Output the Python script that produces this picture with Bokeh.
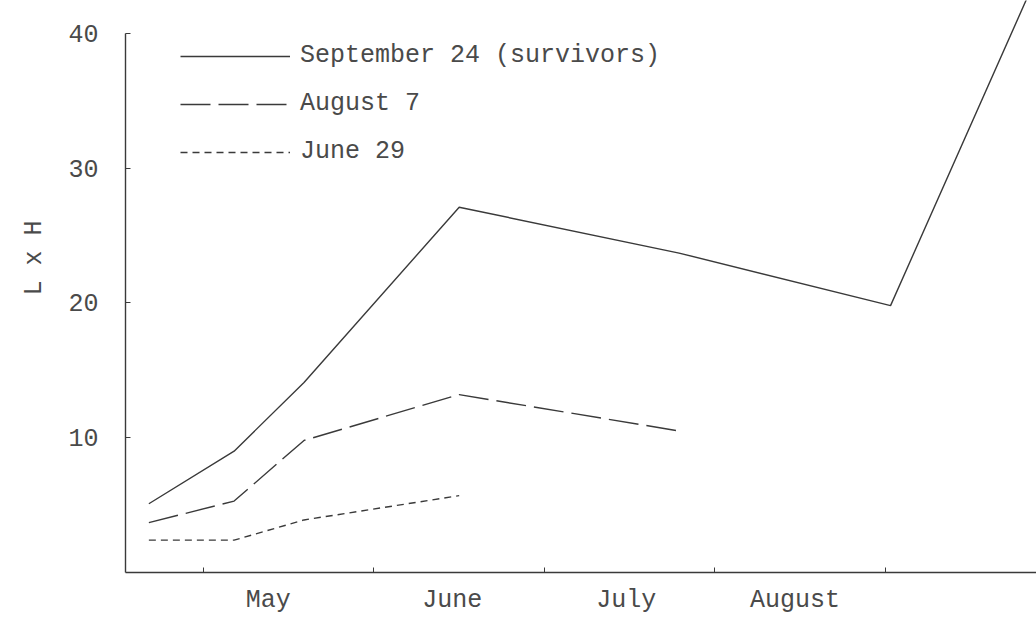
from bokeh.plotting import figure
from bokeh.models import Range1d, FixedTicker, Legend, LegendItem, Title
from bokeh.embed import file_html
from bokeh.resources import INLINE

# ---- data (x in months after May 1; y = L x H) ----
sep_x = [-0.32, 0.18, 0.59, 1.50, 2.79, 4.03, 4.90]
sep_y = [5.1, 9.0, 14.1, 27.1, 23.7, 19.8, 44.6]
aug_x = [-0.32, 0.18, 0.59, 1.50, 2.79]
aug_y = [3.7, 5.3, 9.8, 13.2, 10.5]
jun_x = [-0.32, 0.18, 0.59, 1.50]
jun_y = [2.4, 2.4, 3.9, 5.7]

months = ["May", "June", "July", "August"]
month_starts = [0, 1, 2, 3, 4]
month_label_pos = [0.38, 1.46, 2.48, 3.47]
y_ticks = [10, 20, 30, 40]

FONT = "Liberation Mono"
INK = "#3a3a3a"
TXT = "#4a4a4a"

p = figure(width=1036, height=617, output_backend="svg", toolbar_location=None,
           x_range=Range1d(-0.457, 4.886), y_range=Range1d(0, 42.44),
           min_border_left=125, min_border_right=0, min_border_top=0,
           min_border_bottom=42)
p.outline_line_color = None
p.xgrid.visible = False
p.ygrid.visible = False
p.background_fill_color = "white"
p.border_fill_color = "white"

r_sep = p.line(sep_x, sep_y, line_color=INK, line_width=1.4)
r_aug = p.line(aug_x, aug_y, line_color=INK, line_width=1.4, line_dash="30 8")
r_jun = p.line(jun_x, jun_y, line_color=INK, line_width=1.4, line_dash="7 5")

# y axis
ya = p.yaxis[0]
ya.ticker = FixedTicker(ticks=y_ticks, minor_ticks=[])
ya.bounds = (0, 40)
ya.axis_line_color = INK
ya.axis_line_width = 1.4
ya.major_tick_in = 5
ya.major_tick_out = 0
ya.major_tick_line_color = INK
ya.minor_tick_line_color = None
ya.major_label_standoff = 27
ya.major_label_text_font = FONT
ya.major_label_text_font_size = "25px"
ya.major_label_text_color = TXT

# x axis
xa = p.xaxis[0]
xa.ticker = FixedTicker(ticks=month_label_pos, minor_ticks=month_starts)
xa.major_label_overrides = {pos: m for pos, m in zip(month_label_pos, months)}
xa.axis_line_color = INK
xa.axis_line_width = 1.4
xa.major_tick_in = 0
xa.major_tick_out = 0
xa.major_tick_line_color = None
xa.minor_tick_in = 5
xa.minor_tick_out = 0
xa.minor_tick_line_color = INK
xa.major_label_standoff = 13
xa.major_label_text_font = FONT
xa.major_label_text_font_size = "25px"
xa.major_label_text_color = TXT

# y label (as a left title, shifted up from the bottom of the frame)
ytitle = Title(text="L x H", align="left", vertical_align="top", offset=277,
               standoff=30, text_font=FONT, text_font_size="25px",
               text_font_style="normal", text_color=TXT)
p.add_layout(ytitle, "left")

legend = Legend(items=[
    LegendItem(label="September 24 (survivors)", renderers=[r_sep]),
    LegendItem(label="August 7", renderers=[r_aug]),
    LegendItem(label="June 29", renderers=[r_jun]),
], location=(55, 406), glyph_width=110, glyph_height=24, label_height=24,
    label_standoff=10, spacing=19, padding=0, margin=0,
    border_line_color=None, background_fill_alpha=0,
    label_text_font=FONT, label_text_font_size="25px", label_text_color=TXT)
p.add_layout(legend)

open("out.html", "w").write(file_html(p, INLINE))
